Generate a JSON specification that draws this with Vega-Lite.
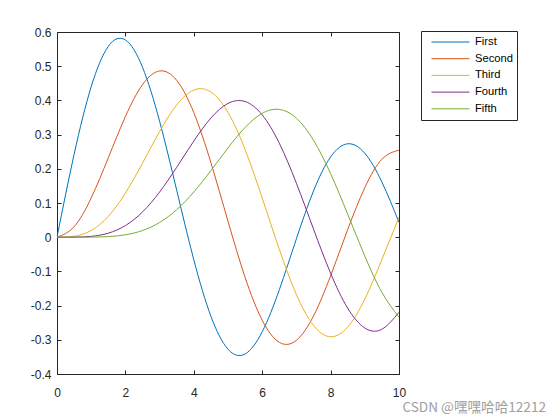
{
  "$schema": "https://vega.github.io/schema/vega-lite/v6.json",
  "width": 342,
  "height": 342,
  "autosize": {"type": "none"},
  "padding": {"left": 57, "top": 32, "right": 161, "bottom": 46},
  "background": "white",
  "title": {
    "text": "CSDN @嘿嘿哈哈12212",
    "orient": "bottom",
    "anchor": "end",
    "frame": "group",
    "dx": 147,
    "offset": 2,
    "fontSize": 13.6,
    "font": "Noto Sans CJK SC",
    "fontWeight": "normal",
    "color": "#a0a0a0"
  },
  "data": {
    "values": [
      {"x": 0, "First": 0, "Second": 0, "Third": 0, "Fourth": 0, "Fifth": 0},
      {"x": 0.5, "First": 0.24227, "Second": 0.03061, "Third": 0.00256, "Fourth": 0.00016, "Fifth": 0.00001},
      {"x": 1, "First": 0.44005, "Second": 0.1149, "Third": 0.01956, "Fourth": 0.00248, "Fifth": 0.00025},
      {"x": 1.5, "First": 0.55794, "Second": 0.23209, "Third": 0.06096, "Fourth": 0.01177, "Fifth": 0.0018},
      {"x": 2, "First": 0.57672, "Second": 0.35283, "Third": 0.12894, "Fourth": 0.034, "Fifth": 0.00704},
      {"x": 2.5, "First": 0.49709, "Second": 0.44606, "Third": 0.2166, "Fourth": 0.07378, "Fifth": 0.0195},
      {"x": 3, "First": 0.33906, "Second": 0.48609, "Third": 0.30906, "Fourth": 0.13203, "Fifth": 0.04303},
      {"x": 3.5, "First": 0.13738, "Second": 0.45863, "Third": 0.38677, "Fourth": 0.2044, "Fifth": 0.08043},
      {"x": 4, "First": -0.06604, "Second": 0.36413, "Third": 0.43017, "Fourth": 0.28113, "Fifth": 0.13209},
      {"x": 4.5, "First": -0.23106, "Second": 0.21785, "Third": 0.4247, "Fourth": 0.34842, "Fifth": 0.19471},
      {"x": 5, "First": -0.32758, "Second": 0.04657, "Third": 0.36483, "Fourth": 0.39123, "Fifth": 0.26114},
      {"x": 5.5, "First": -0.34144, "Second": -0.11731, "Third": 0.25612, "Fourth": 0.39672, "Fifth": 0.32093},
      {"x": 6, "First": -0.27668, "Second": -0.24287, "Third": 0.11477, "Fourth": 0.35764, "Fifth": 0.36209},
      {"x": 6.5, "First": -0.15384, "Second": -0.30743, "Third": -0.03535, "Fourth": 0.2748, "Fifth": 0.37357},
      {"x": 7, "First": -0.00468, "Second": -0.30142, "Third": -0.16756, "Fourth": 0.1578, "Fifth": 0.3479},
      {"x": 7.5, "First": 0.13525, "Second": -0.23027, "Third": -0.25806, "Fourth": 0.02382, "Fifth": 0.28347},
      {"x": 8, "First": 0.23464, "Second": -0.11299, "Third": -0.29113, "Fourth": -0.10536, "Fifth": 0.18577},
      {"x": 8.5, "First": 0.27312, "Second": 0.02232, "Third": -0.26262, "Fourth": -0.2077, "Fifth": 0.06714},
      {"x": 9, "First": 0.24531, "Second": 0.14485, "Third": -0.18094, "Fourth": -0.26547, "Fifth": -0.05504},
      {"x": 9.5, "First": 0.16127, "Second": 0.22788, "Third": -0.06532, "Fourth": -0.26913, "Fifth": -0.16132},
      {"x": 10, "First": 0.04347, "Second": 0.25463, "Third": 0.05838, "Fourth": -0.2196, "Fifth": -0.23406}
    ]
  },
  "transform": [
    {"fold": ["First", "Second", "Third", "Fourth", "Fifth"], "as": ["series", "value"]}
  ],
  "layer": [
    {
      "mark": {"type": "line", "interpolate": "natural", "strokeWidth": 1, "clip": true},
      "encoding": {
        "x": {
          "field": "x",
          "type": "quantitative",
          "scale": {"domain": [0, 10], "nice": false},
          "axis": {"orient": "bottom", "title": null, "values": [0, 2, 4, 6, 8, 10], "labelFlush": false, "labelPadding": 17.5}
        },
        "y": {
          "field": "value",
          "type": "quantitative",
          "scale": {"domain": [-0.4, 0.6], "nice": false, "zero": false},
          "axis": {
            "orient": "left",
            "title": null,
            "values": [-0.4, -0.3, -0.2, -0.1, 0, 0.1, 0.2, 0.3, 0.4, 0.5, 0.6],
            "labelExpr": "'' + datum.value",
            "labelFlush": false,
            "labelPadding": 10
          }
        },
        "color": {
          "field": "series",
          "type": "nominal",
          "scale": {
            "domain": ["First", "Second", "Third", "Fourth", "Fifth"],
            "range": ["#0072BD", "#D95319", "#EDB120", "#7E2F8E", "#77AC30"]
          },
          "legend": {
            "orient": "none",
            "legendX": 364,
            "legendY": -1,
            "title": null,
            "symbolType": "stroke",
            "symbolSize": 1444,
            "symbolStrokeWidth": 1,
            "symbolOffset": 6,
            "labelFontSize": 11.2,
            "labelFont": "Liberation Sans",
            "labelColor": "black",
            "labelOffset": 5,
            "strokeColor": "#262626",
            "fillColor": "white",
            "padding": 4,
            "clipHeight": 14,
            "rowPadding": 2.7
          }
        }
      }
    },
    {
      "mark": {"type": "line", "opacity": 0},
      "encoding": {
        "x": {
          "field": "x",
          "type": "quantitative",
          "axis": {"orient": "top", "title": null, "values": [0, 2, 4, 6, 8, 10], "labels": false}
        },
        "y": {
          "field": "value",
          "type": "quantitative",
          "axis": {
            "orient": "right",
            "title": null,
            "values": [-0.4, -0.3, -0.2, -0.1, 0, 0.1, 0.2, 0.3, 0.4, 0.5, 0.6],
            "labels": false
          }
        }
      }
    }
  ],
  "resolve": {"axis": {"x": "independent", "y": "independent"}},
  "config": {
    "view": {"stroke": null},
    "axis": {
      "grid": false,
      "domainColor": "#262626",
      "tickColor": "#262626",
      "tickSize": -4,
      "labelFont": "Liberation Sans",
      "labelFontSize": 12,
      "labelColor": "#262626"
    }
  }
}
